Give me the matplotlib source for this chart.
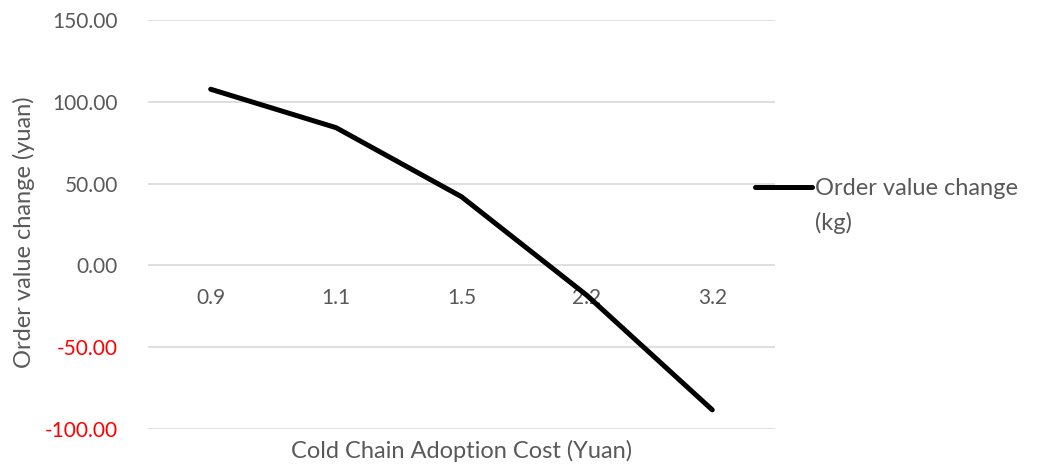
import numpy as np
import matplotlib.pyplot as plt
from matplotlib.lines import Line2D

costs = ['0.9', '1.1', '1.5', '2.2', '3.2']
order_value_change = [107.7, 84.2, 42.0, -18.3, -88.3]
y_ticks = [-100, -50, 0, 50, 100, 150]
series_name = ['Order value change', '(kg)']

plt.rcParams['font.family'] = ['Lato', 'DejaVu Sans']
grey = '#595959'

fig = plt.figure(figsize=(10.37, 4.66), dpi=100)
ax = fig.add_axes([0.1427, 0.0794, 0.6046, 0.8776])

x = np.arange(len(costs))
ax.plot(x, order_value_change, color='black', lw=3.6, solid_capstyle='round',
        solid_joinstyle='round', zorder=3)

ax.set_xlim(-0.5, len(costs) - 0.5)
ax.set_ylim(-100, 150)
ax.set_yticks(y_ticks)
ax.set_yticklabels(['%.2f' % v for v in y_ticks])
ax.set_xticks(x)
ax.set_xticklabels(costs)
ax.yaxis.grid(True, color='#d9d9d9', lw=1.2)
ax.set_axisbelow(True)

# category labels sit just under the zero line
ax.spines['bottom'].set_position(('data', 0))
for s in ax.spines.values():
    s.set_visible(False)
ax.tick_params(axis='both', length=0, labelsize=15, colors=grey)
ax.tick_params(axis='x', pad=16)
ax.tick_params(axis='y', pad=21.5)
for lbl, v in zip(ax.get_yticklabels(), y_ticks):
    if v < 0:
        lbl.set_color('red')

fig.text(0.0231, 0.502, 'Order value change (yuan)', rotation=90,
         ha='center', va='center', fontsize=17, color=grey)
ax.text(0.5, -0.054, 'Cold Chain Adoption Cost (Yuan)', transform=ax.transAxes,
        ha='center', va='center', fontsize=17, color=grey)

# legend: line key beside a two-line series name
fig.add_artist(Line2D([0.728, 0.783], [0.5994, 0.5994], transform=fig.transFigure,
                      color='black', lw=3.6, solid_capstyle='round'))
fig.text(0.786, 0.5815, series_name[0], ha='left', va='baseline',
         fontsize=17, color=grey)
fig.text(0.786, 0.5064, series_name[1], ha='left', va='baseline',
         fontsize=17, color=grey)

fig.savefig('out.png', dpi=100)
